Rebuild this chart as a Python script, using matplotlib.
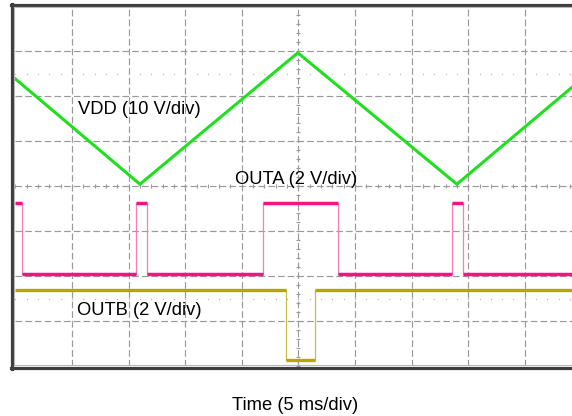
import matplotlib
matplotlib.use("Agg")
import matplotlib.pyplot as plt
from matplotlib.lines import Line2D
import numpy as np

# ---- channel data (time in ms, amplitude in screen divisions) ----
vdd_t = [0.0, 11.0, 24.95, 39.0, 50.0]
vdd_y = [6.38, 4.04, 6.96, 4.04, 6.37]

outa_high = 3.63
outa_low = 2.04
outa_edges = [0.58, 10.65, 11.63, 21.83, 28.50, 38.57, 39.54]   # toggle times
outa_start_high = True

outb_high = 1.70
outb_low = 0.13
outb_edges = [23.9, 26.46]
outb_start_high = True

labels = ["VDD (10 V/div)", "OUTA (2 V/div)", "OUTB (2 V/div)"]
xlabel = "Time (5 ms/div)"

W, H = 572, 416
plt.rcParams["lines.scale_dashes"] = False
fig = plt.figure(figsize=(W / 100, H / 100), dpi=100)


def fx(px):
    return px / W


def fy(py):
    return 1 - py / H


# screen area: 10 x 8 divisions, 5 ms/div
ax = fig.add_axes([fx(15.4), fy(366), 566 / W, 360 / H])
ax.set_xlim(0, 50)
ax.set_ylim(0, 8)
ax.axis("off")

grid_c = "#9a9a9a"
dash = (0, (4.8, 2.2))
for k in range(1, 10):
    ax.plot([k * 5, k * 5], [0, 8], color=grid_c, lw=0.85, linestyle=dash, zorder=1)
for k in range(1, 8):
    ax.plot([0, 50], [k, k], color=grid_c, lw=0.85, linestyle=dash, zorder=1)

# minor ticks on the centre axes
mt = np.arange(0, 50.01, 1.0)
ax.plot(mt, np.full_like(mt, 4.0), linestyle="none", marker="|", ms=3.5,
        mew=0.8, color=grid_c, zorder=1)
mv = np.arange(0, 8.01, 0.2)
ax.plot(np.full_like(mv, 25.0), mv, linestyle="none", marker="_", ms=3.5,
        mew=0.8, color=grid_c, zorder=1)

# dotted reference rows
for yy in (1.5, 6.5):
    ax.plot(mt, np.full_like(mt, yy), linestyle="none", marker="s", ms=0.9,
            mew=0, color="#b8b8b8", zorder=1)


def square(edges, hi, lo, start_high):
    ts = [0.0] + list(edges) + [50.0]
    level = hi if start_high else lo
    segs = []
    for i in range(len(ts) - 1):
        segs.append(((ts[i], ts[i + 1]), level))
        level = lo if level == hi else hi
    return segs


def draw_square(edges, hi, lo, start_high, color, edge_color, lw):
    segs = square(edges, hi, lo, start_high)
    for (t0, t1), lev in segs:
        ax.plot([t0, t1], [lev, lev], color=color, lw=lw,
                solid_capstyle="butt", zorder=3)
    for t in edges:
        ax.plot([t, t], [lo, hi], color=edge_color, lw=0.9, zorder=2)


draw_square(outa_edges, outa_high, outa_low, outa_start_high,
            "#f5147f", "#f77fb8", 2.5)
draw_square(outb_edges, outb_high, outb_low, outb_start_high,
            "#b4a800", "#c8bd40", 2.4)

ax.plot(vdd_t, vdd_y, color="#1fe01f", lw=2.2, zorder=4,
        solid_joinstyle="miter")

# frame
frame_dark = "#3e3e3e"
frame_light = "#b8b8b8"
fig.add_artist(Line2D([fx(12), fx(12)], [fy(3.8), fy(369)], color=frame_dark, lw=2.3))
fig.add_artist(Line2D([fx(11), fx(600)], [fy(5), fy(5)], color=frame_dark, lw=2.3))
fig.add_artist(Line2D([fx(11), fx(600)], [fy(367.6), fy(367.6)], color=frame_dark, lw=2.3))
fig.add_artist(Line2D([fx(14.4), fx(14.4)], [fy(6.8), fy(365.2)], color=frame_light, lw=0.8))
fig.add_artist(Line2D([fx(14), fx(600)], [fy(7.0), fy(7.0)], color=frame_light, lw=0.8))
fig.add_artist(Line2D([fx(14), fx(600)], [fy(365.0), fy(365.0)], color=frame_light, lw=0.8))

font = dict(family=["Liberation Sans", "DejaVu Sans"], fontsize=13.2, color="#000000")
fig.text(fx(78), fy(114), labels[0], va="baseline", ha="left", **font)
fig.text(fx(235), fy(184), labels[1], va="baseline", ha="left", **font)
fig.text(fx(77), fy(315), labels[2], va="baseline", ha="left", **font)
fig.text(fx(232), fy(410), xlabel, va="baseline", ha="left", **font)

fig.savefig("out.png", dpi=100)
